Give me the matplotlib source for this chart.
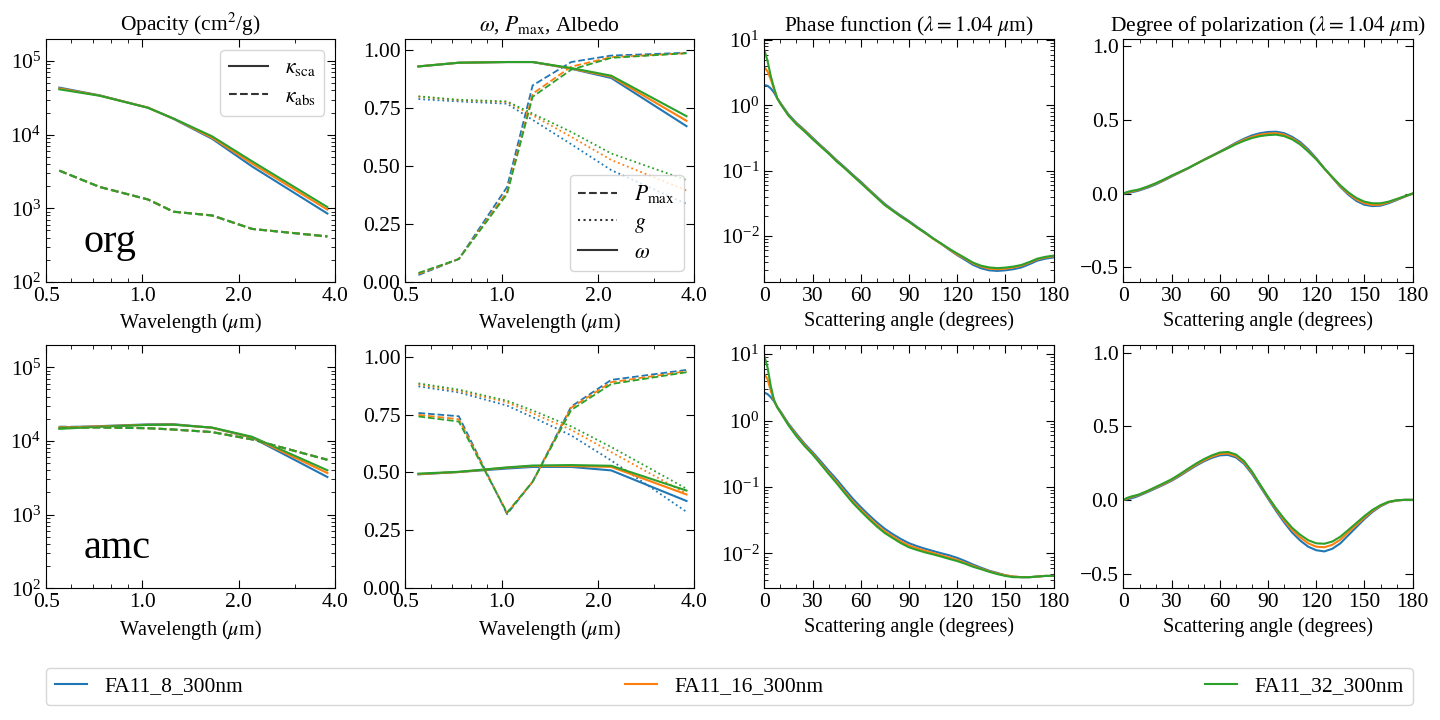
import numpy as np
import matplotlib
matplotlib.use("Agg")
import matplotlib.pyplot as plt
from matplotlib.ticker import FixedLocator, FixedFormatter, NullFormatter, MultipleLocator

plt.rcParams['font.family'] = ['Liberation Serif', 'DejaVu Serif']
plt.rcParams['mathtext.fontset'] = 'stix'
plt.rcParams['xtick.direction'] = 'in'
plt.rcParams['ytick.direction'] = 'in'
plt.rcParams['xtick.top'] = True
plt.rcParams['ytick.right'] = True
plt.rcParams['xtick.major.size'] = 6
plt.rcParams['ytick.major.size'] = 6
plt.rcParams['xtick.minor.size'] = 3
plt.rcParams['ytick.minor.size'] = 3

# sizes / series names
names = ['FA11_8_300nm', 'FA11_16_300nm', 'FA11_32_300nm']
colors = ['tab:blue', 'tab:orange', 'tab:green']

# wavelengths (micron)
wl = [0.55, 0.735, 1.04, 1.25, 1.65, 2.2, 3.78]

# ---- org ----
org_ksca = [[43600, 34200, 23300, 16400, 8800, 3700, 850],
            [42500, 34000, 23300, 16500, 9100, 4050, 960],
            [41300, 33800, 23200, 16600, 9500, 4350, 1040]]
org_kabs = [[3250, 1950, 1320, 900, 800, 525, 415],
            [3250, 1950, 1320, 900, 800, 525, 415],
            [3250, 1950, 1320, 900, 800, 525, 415]]
org_omega = [[0.931, 0.947, 0.950, 0.950, 0.921, 0.881, 0.673],
             [0.931, 0.947, 0.950, 0.950, 0.922, 0.887, 0.696],
             [0.931, 0.947, 0.950, 0.950, 0.924, 0.891, 0.716]]
org_pmax = [[0.030, 0.099, 0.41, 0.849, 0.950, 0.978, 0.990],
            [0.035, 0.099, 0.39, 0.813, 0.930, 0.971, 0.988],
            [0.039, 0.099, 0.38, 0.800, 0.917, 0.968, 0.988]]
org_g = [[0.790, 0.780, 0.770, 0.700, 0.595, 0.483, 0.337],
         [0.800, 0.785, 0.777, 0.720, 0.627, 0.527, 0.395],
         [0.802, 0.787, 0.780, 0.727, 0.648, 0.555, 0.440]]

# ---- amc ----
amc_ksca = [[15300, 15900, 16800, 16900, 15100, 11100, 3240],
            [15100, 15800, 16600, 16700, 15100, 11200, 3670],
            [14600, 15600, 16500, 16600, 15200, 11400, 4000]]
amc_kabs = [[15600, 15400, 14900, 14300, 13200, 10500, 5550],
            [15400, 15300, 14900, 14300, 13200, 10500, 5550],
            [15100, 15200, 14900, 14300, 13200, 10500, 5550]]
amc_omega = [[0.492, 0.502, 0.517, 0.524, 0.524, 0.509, 0.377],
             [0.493, 0.502, 0.521, 0.528, 0.528, 0.524, 0.405],
             [0.495, 0.503, 0.522, 0.530, 0.532, 0.529, 0.422]]
amc_pmax = [[0.757, 0.743, 0.320, 0.460, 0.785, 0.900, 0.943],
            [0.749, 0.730, 0.326, 0.460, 0.780, 0.890, 0.937],
            [0.742, 0.720, 0.326, 0.460, 0.770, 0.882, 0.933]]
amc_g = [[0.872, 0.846, 0.789, 0.739, 0.660, 0.552, 0.330],
         [0.880, 0.852, 0.803, 0.756, 0.684, 0.588, 0.409],
         [0.885, 0.858, 0.810, 0.768, 0.699, 0.610, 0.430]]

# scattering angles (degrees) for lambda = 1.04 micron
angle = [0, 2, 4, 6, 8, 10, 15, 20, 25, 30, 35, 40, 45, 50, 55, 60, 65, 70, 75, 80,
         85, 90, 95, 100, 105, 110, 115, 120, 125, 130, 135, 140, 145, 150, 155, 160,
         165, 170, 175, 180]

org_phase = [
    [2.04, 2.0, 1.82, 1.58, 1.29, 1.09, 0.73, 0.54, 0.42, 0.32, 0.245, 0.19, 0.145, 0.113,
     0.087, 0.068, 0.052, 0.040, 0.031, 0.025, 0.0205, 0.017, 0.0138, 0.0114, 0.0092,
     0.0076, 0.0062, 0.0051, 0.0043, 0.0036, 0.0032, 0.00298, 0.00292, 0.00298, 0.0031,
     0.0033, 0.0037, 0.0042, 0.0045, 0.0047],
    [3.89, 3.31, 2.51, 1.78, 1.29, 1.07, 0.71, 0.525, 0.41, 0.31, 0.24, 0.186, 0.141, 0.110,
     0.085, 0.066, 0.051, 0.039, 0.030, 0.0245, 0.020, 0.0166, 0.0135, 0.0112, 0.0091,
     0.0076, 0.0063, 0.0052, 0.0045, 0.0038, 0.0034, 0.00316, 0.0031, 0.00316, 0.0033,
     0.0035, 0.0039, 0.0044, 0.0047, 0.0049],
    [7.08, 4.79, 2.82, 1.86, 1.29, 1.06, 0.70, 0.515, 0.40, 0.305, 0.236, 0.183, 0.139, 0.109,
     0.084, 0.065, 0.050, 0.0385, 0.0297, 0.0243, 0.0198, 0.0165, 0.0135, 0.0112, 0.0092,
     0.0077, 0.0064, 0.0054, 0.0046, 0.0039, 0.0035, 0.0033, 0.00322, 0.00328, 0.0034,
     0.0036, 0.0040, 0.0045, 0.0048, 0.0050]]
amc_phase = [
    [2.63, 2.5, 2.25, 1.95, 1.62, 1.38, 0.90, 0.63, 0.45, 0.335, 0.245, 0.177, 0.13, 0.093,
     0.067, 0.050, 0.038, 0.0295, 0.0235, 0.0195, 0.0165, 0.0143, 0.0129, 0.0118, 0.0109,
     0.0101, 0.0094, 0.0086, 0.0077, 0.0068, 0.0061, 0.0055, 0.0051, 0.0047, 0.0045,
     0.0044, 0.0044, 0.0045, 0.0046, 0.0046],
    [5.0, 4.2, 2.8, 2.0, 1.6, 1.35, 0.87, 0.60, 0.43, 0.32, 0.23, 0.165, 0.12, 0.085,
     0.061, 0.046, 0.035, 0.027, 0.0215, 0.018, 0.0152, 0.0132, 0.0120, 0.0110, 0.0102,
     0.0094, 0.0087, 0.0080, 0.0072, 0.0065, 0.0059, 0.0054, 0.0050, 0.0047, 0.0045,
     0.0044, 0.0044, 0.0045, 0.0046, 0.0046],
    [9.3, 6.3, 3.3, 2.05, 1.58, 1.33, 0.85, 0.58, 0.415, 0.31, 0.222, 0.158, 0.114, 0.081,
     0.058, 0.0435, 0.033, 0.0255, 0.0203, 0.0170, 0.0143, 0.0124, 0.0113, 0.0104, 0.0097,
     0.0090, 0.0083, 0.0077, 0.0070, 0.0063, 0.0058, 0.0053, 0.0049, 0.0046, 0.0044,
     0.0044, 0.0044, 0.0045, 0.0046, 0.0046]]

org_pol = [
    [0.0, 0.002, 0.006, 0.011, 0.016, 0.022, 0.040, 0.062, 0.088, 0.116, 0.143, 0.17, 0.20,
     0.229, 0.257, 0.285, 0.314, 0.345, 0.372, 0.395, 0.41, 0.418, 0.42, 0.41, 0.385, 0.35,
     0.30, 0.24, 0.172, 0.108, 0.045, -0.008, -0.05, -0.076, -0.085, -0.082, -0.066,
     -0.044, -0.022, 0.0],
    [0.0, 0.006, 0.011, 0.016, 0.021, 0.027, 0.045, 0.067, 0.092, 0.12, 0.145, 0.17, 0.20,
     0.228, 0.255, 0.282, 0.31, 0.34, 0.365, 0.385, 0.40, 0.407, 0.41, 0.40, 0.375, 0.34,
     0.29, 0.235, 0.17, 0.11, 0.05, 0.0, -0.04, -0.065, -0.077, -0.075, -0.06, -0.04,
     -0.02, 0.0],
    [0.0, 0.010, 0.016, 0.020, 0.024, 0.029, 0.048, 0.07, 0.095, 0.122, 0.147, 0.172, 0.20,
     0.228, 0.255, 0.282, 0.308, 0.335, 0.358, 0.377, 0.39, 0.397, 0.40, 0.39, 0.368, 0.333,
     0.285, 0.232, 0.17, 0.112, 0.056, 0.008, -0.03, -0.055, -0.066, -0.066, -0.055,
     -0.037, -0.018, 0.0]]
amc_pol = [
    [0.0, 0.002, 0.008, 0.014, 0.021, 0.03, 0.053, 0.078, 0.103, 0.13, 0.162, 0.197, 0.231,
     0.261, 0.285, 0.302, 0.305, 0.288, 0.245, 0.176, 0.092, 0.008, -0.075, -0.153, -0.222,
     -0.276, -0.318, -0.342, -0.35, -0.332, -0.295, -0.24, -0.185, -0.13, -0.082, -0.044,
     -0.017, -0.005, 0.0, 0.0],
    [0.0, 0.008, 0.016, 0.022, 0.028, 0.035, 0.058, 0.083, 0.108, 0.135, 0.168, 0.203, 0.238,
     0.268, 0.293, 0.311, 0.315, 0.298, 0.255, 0.185, 0.10, 0.015, -0.065, -0.14, -0.205,
     -0.255, -0.295, -0.318, -0.322, -0.305, -0.27, -0.22, -0.17, -0.12, -0.075, -0.04,
     -0.015, -0.004, 0.0, 0.0],
    [0.0, 0.012, 0.02, 0.026, 0.031, 0.038, 0.061, 0.087, 0.113, 0.14, 0.174, 0.21, 0.245,
     0.276, 0.302, 0.321, 0.325, 0.308, 0.264, 0.192, 0.105, 0.02, -0.058, -0.128, -0.19,
     -0.237, -0.274, -0.295, -0.298, -0.283, -0.25, -0.204, -0.157, -0.11, -0.068, -0.036,
     -0.013, -0.003, 0.0, 0.0]]

materials = ['org', 'amc']
ksca_all = [org_ksca, amc_ksca]
kabs_all = [org_kabs, amc_kabs]
omega_all = [org_omega, amc_omega]
pmax_all = [org_pmax, amc_pmax]
g_all = [org_g, amc_g]
phase_all = [org_phase, amc_phase]
pol_all = [org_pol, amc_pol]

tick_fs = 15.5
label_fs = 14.5
title_fs = 15.5

fig, axes = plt.subplots(2, 4, figsize=(14.4, 7.2), dpi=100)
fig.subplots_adjust(left=0.032, right=0.981, top=0.946, bottom=0.183, wspace=0.242, hspace=0.26)


def wl_axis(ax):
    ax.set_xscale('log')
    ax.set_xlim(0.5, 4.0)
    ax.xaxis.set_major_locator(FixedLocator([0.5, 1.0, 2.0, 4.0]))
    ax.xaxis.set_major_formatter(FixedFormatter(['0.5', '1.0', '2.0', '4.0']))
    ax.xaxis.set_minor_formatter(NullFormatter())
    ax.set_xlabel(r'Wavelength ($\mu$m)', fontsize=label_fs)


for r in range(2):
    ax_op, ax_al, ax_ph, ax_po = axes[r]
    lines = []
    for i in range(3):
        l, = ax_op.plot(wl, ksca_all[r][i], color=colors[i], lw=1.5, label=names[i])
        lines.append(l)
    for i in range(3):
        ax_op.plot(wl, kabs_all[r][i], color=colors[i], lw=1.5, ls='--')
    ax_op.set_yscale('log')
    ax_op.set_ylim(1e2, 2e5)
    wl_axis(ax_op)
    ax_op.text(0.13, 0.125, materials[r], transform=ax_op.transAxes, fontsize=29, va='baseline')

    for i in range(3):
        ax_al.plot(wl, pmax_all[r][i], color=colors[i], lw=1.3, ls='--')
        ax_al.plot(wl, g_all[r][i], color=colors[i], lw=1.3, ls=':')
        ax_al.plot(wl, omega_all[r][i], color=colors[i], lw=1.5, ls='-')
    ax_al.set_ylim(0, 1.05)
    ax_al.yaxis.set_major_locator(MultipleLocator(0.25))
    ax_al.yaxis.set_major_formatter(plt.FormatStrFormatter('%.2f'))
    wl_axis(ax_al)

    for i in range(3):
        ax_ph.plot(angle, phase_all[r][i], color=colors[i], lw=1.5)
    ax_ph.set_yscale('log')
    ax_ph.set_xlim(0, 180)

    for i in range(3):
        ax_po.plot(angle, pol_all[r][i], color=colors[i], lw=1.5)
    ax_po.set_xlim(0, 180)
    ax_po.set_ylim(-0.6, 1.05)
    ax_po.yaxis.set_major_locator(MultipleLocator(0.5))

    for ax in (ax_ph, ax_po):
        ax.xaxis.set_major_locator(MultipleLocator(30))
        ax.xaxis.set_minor_locator(MultipleLocator(10))
        ax.set_xlabel('Scattering angle (degrees)', fontsize=label_fs)

    for ax in axes[r]:
        ax.tick_params(labelsize=tick_fs)

axes[0, 0].set_title(r'Opacity (cm$^2$/g)', fontsize=title_fs)
axes[0, 1].set_title(r'$\omega$, $P_\mathrm{max}$, Albedo', fontsize=title_fs)
axes[0, 2].set_title(r'Phase function ($\lambda = 1.04$ $\mu$m)', fontsize=title_fs)
axes[0, 3].set_title(r'Degree of polarization ($\lambda = 1.04$ $\mu$m)', fontsize=title_fs)

# style legends
h1, = axes[0, 0].plot([], [], color='0.2', ls='-', lw=1.5)
h2, = axes[0, 0].plot([], [], color='0.2', ls='--', lw=1.5)
axes[0, 0].legend([h1, h2], [r'$\kappa_\mathrm{sca}$', r'$\kappa_\mathrm{abs}$'],
                  loc='upper right', fontsize=15.5, handlelength=1.8, labelspacing=0.4)

h3, = axes[0, 1].plot([], [], color='0.2', ls='--', lw=1.5)
h4, = axes[0, 1].plot([], [], color='0.2', ls=':', lw=1.5)
h5, = axes[0, 1].plot([], [], color='0.2', ls='-', lw=1.5)
axes[0, 1].legend([h3, h4, h5], [r'$P_\mathrm{max}$', r'$g$', r'$\omega$'],
                  loc='lower right', fontsize=15.5, handlelength=1.8, labelspacing=0.35)

fig.legend(lines, names, loc='lower left', ncol=3, mode='expand', borderaxespad=0,
           bbox_to_anchor=(0.032, 0.021, 0.949, 0.05), fontsize=15.5, handlelength=1.5)

fig.savefig('out.png', dpi=100)
